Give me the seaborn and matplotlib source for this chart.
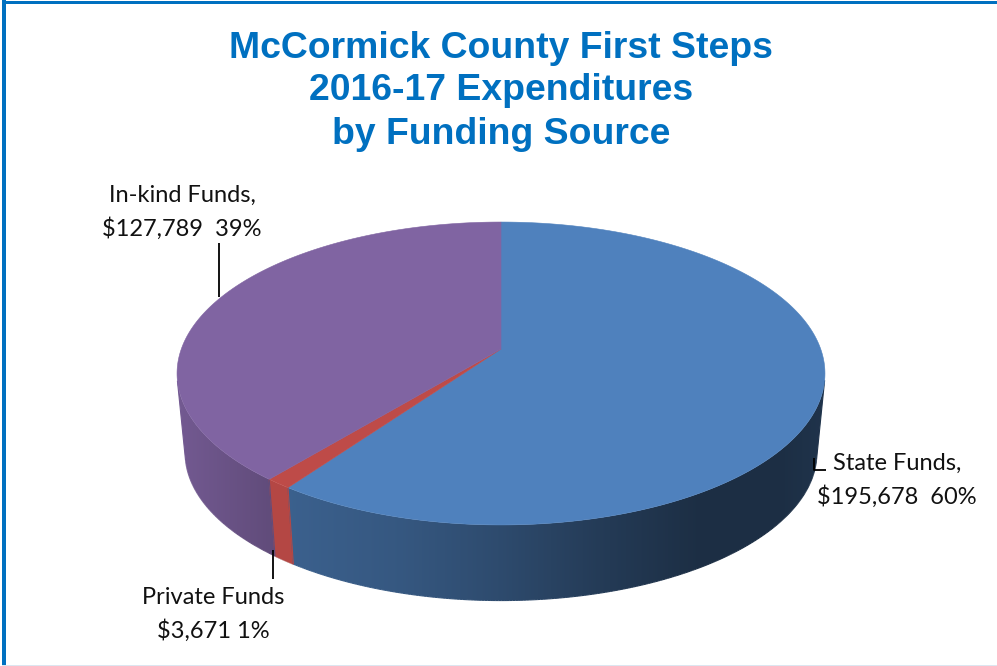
import numpy as np
import pandas as pd
import seaborn as sns
import matplotlib
matplotlib.use("Agg")
import matplotlib.pyplot as plt
from matplotlib.patches import Polygon
from matplotlib.path import Path
from matplotlib.collections import LineCollection

# ---- data ----
sources = ["State Funds", "Private Funds", "In-kind Funds"]
amounts = [195678, 3671, 127789]
title_lines = ["McCormick County First Steps", "2016-17 Expenditures", "by Funding Source"]

# ---- style ----
top_colors = ["#4F81BD", "#BE4B48", "#8064A2"]
TITLE_BLUE = "#0070C0"
LABEL_FONT = "Lato"

sns.set_theme(style="white")
plt.rcParams["font.family"] = [LABEL_FONT, "DejaVu Sans"]
palette = sns.color_palette(top_colors)

df = pd.DataFrame({"source": sources, "amount": amounts})
df["share"] = df["amount"] / df["amount"].sum()
df["start"] = df["share"].cumsum().shift(fill_value=0) * 2 * np.pi
df["end"] = df["share"].cumsum() * 2 * np.pi

W, H = 997, 666
fig = plt.figure(figsize=(W / 100, H / 100), dpi=100, facecolor="white")
ax = fig.add_axes([0, 0, 1, 1])

# Projection of the tilted disc onto the page
CX, CY = 501.0, 349.0
AX_X, AX_Y, K = 319.7, 147.5, -0.1617
DEPTH, BOTTOM_SCALE = 80.0, 0.975


def project(theta, scale=1.0, dy=0.0):
    u, v = np.sin(theta), -np.cos(theta)
    d = 1 + K * v
    return CX + scale * AX_X * u / d, CY + dy + scale * AX_Y * v / d


# Brightness of the rim as a function of page x (the red slice stays lit)
shade_x = [177, 270, 400, 500, 600, 700, 780, 825]
shade_f = [0.90, 0.76, 0.68, 0.58, 0.46, 0.36, 0.36, 0.40]
RED_SHADE = 0.95


def rim_rgb(xs, source, col):
    f = np.interp(xs, shade_x, shade_f)
    if source == "Private Funds":
        f = np.full_like(xs, RED_SHADE)
    return np.clip(f[..., None] * np.array(col), 0, 1)


# Rim: one horizontal gradient per slice, clipped to its front-facing wall
for (_, row), col in zip(df.iterrows(), palette):
    th = np.linspace(row["start"], row["end"], 500)
    x0, y0 = project(th)
    x1, y1 = project(th, BOTTOM_SCALE, DEPTH)
    verts, codes, rim_segs, rim_x = [], [], [], []
    kept = []
    for i in range(len(th) - 1):
        q = np.array([(x0[i], y0[i]), (x0[i + 1], y0[i + 1]),
                      (x1[i + 1], y1[i + 1]), (x1[i], y1[i])])
        a = np.sum(q[:, 0] * np.roll(q[:, 1], -1) - np.roll(q[:, 0], -1) * q[:, 1])
        if a >= 0:
            continue
        kept.append(i)
        verts.extend(list(q) + [q[0]])
        codes.extend([Path.MOVETO, Path.LINETO, Path.LINETO, Path.LINETO, Path.CLOSEPOLY])
        rim_segs.append([q[3], q[2]])
        rim_x.append((q[3][0] + q[2][0]) / 2)
    if not kept:
        continue
    for i in (kept[0], kept[-1] + 1):
        rim_segs.append([(x0[i], y0[i]), (x1[i], y1[i])])
        rim_x.append((x0[i] + x1[i]) / 2)
    verts = np.array(verts)
    path = Path(verts, codes)
    xs = np.linspace(verts[:, 0].min(), verts[:, 0].max(), 400)
    grad = rim_rgb(xs, row["source"], col)[None, :, :]
    img = ax.imshow(grad, extent=(xs[0], xs[-1], verts[:, 1].max(), verts[:, 1].min()),
                    aspect="auto", interpolation="bilinear", zorder=2.5)
    img.set_clip_path(path, transform=ax.transData)
    ax.add_collection(LineCollection(rim_segs, colors=rim_rgb(np.array(rim_x), row["source"], col),
                                     linewidths=0.8, zorder=2.6))

ax.set_xlim(0, W)
ax.set_ylim(H, 0)
ax.axis("off")

# Top face
for (_, row), col in zip(df.iterrows(), palette):
    th = np.linspace(row["start"], row["end"], 300)
    x, y = project(th)
    ax.add_patch(Polygon(
        np.column_stack([np.r_[CX, x], np.r_[CY, y]]),
        closed=True, facecolor=col, edgecolor=col, linewidth=0.4, zorder=3))

# Title
for line, y in zip(title_lines, [48, 91, 134]):
    ax.text(501, y, line, ha="center", va="center", color=TITLE_BLUE,
            fontsize=26.9, fontweight="bold", family="Liberation Sans", zorder=5)


def money(i):
    return f"${df['amount'][i]:,}"


def pct(i):
    return f"{df['share'][i] * 100:.0f}%"


# Data labels
label_kw = dict(ha="center", va="center", color="#111111", fontsize=17, zorder=5)
ax.text(897, 463, f"{sources[0]},", **label_kw)
ax.text(897, 497, f"{money(0)}  {pct(0)}", **label_kw)
ax.text(213, 598, sources[1], **label_kw)
ax.text(213, 631, f"{money(1)} {pct(1)}", **label_kw)
ax.text(182, 195, f"{sources[2]},", **label_kw)
ax.text(182, 229, f"{money(2)}  {pct(2)}", **label_kw)

# Leader lines
line_kw = dict(color="black", linewidth=1.3, zorder=6, solid_capstyle="butt")
ax.plot([219, 219], [243, 297], **line_kw)
ax.plot([273, 273], [550, 579], **line_kw)
ax.plot([814, 814, 826], [458, 470, 470], **line_kw)

# Frame of the picture
ax.fill_between([2, 6], 0, H, color=TITLE_BLUE, linewidth=0, zorder=7)
ax.fill_between([2, W], 1, 4, color=TITLE_BLUE, linewidth=0, zorder=7)
ax.fill_between([2, W], 664.5, H, color="#DCE6F0", linewidth=0, zorder=7)

fig.savefig("out.png", dpi=100, facecolor="white")
